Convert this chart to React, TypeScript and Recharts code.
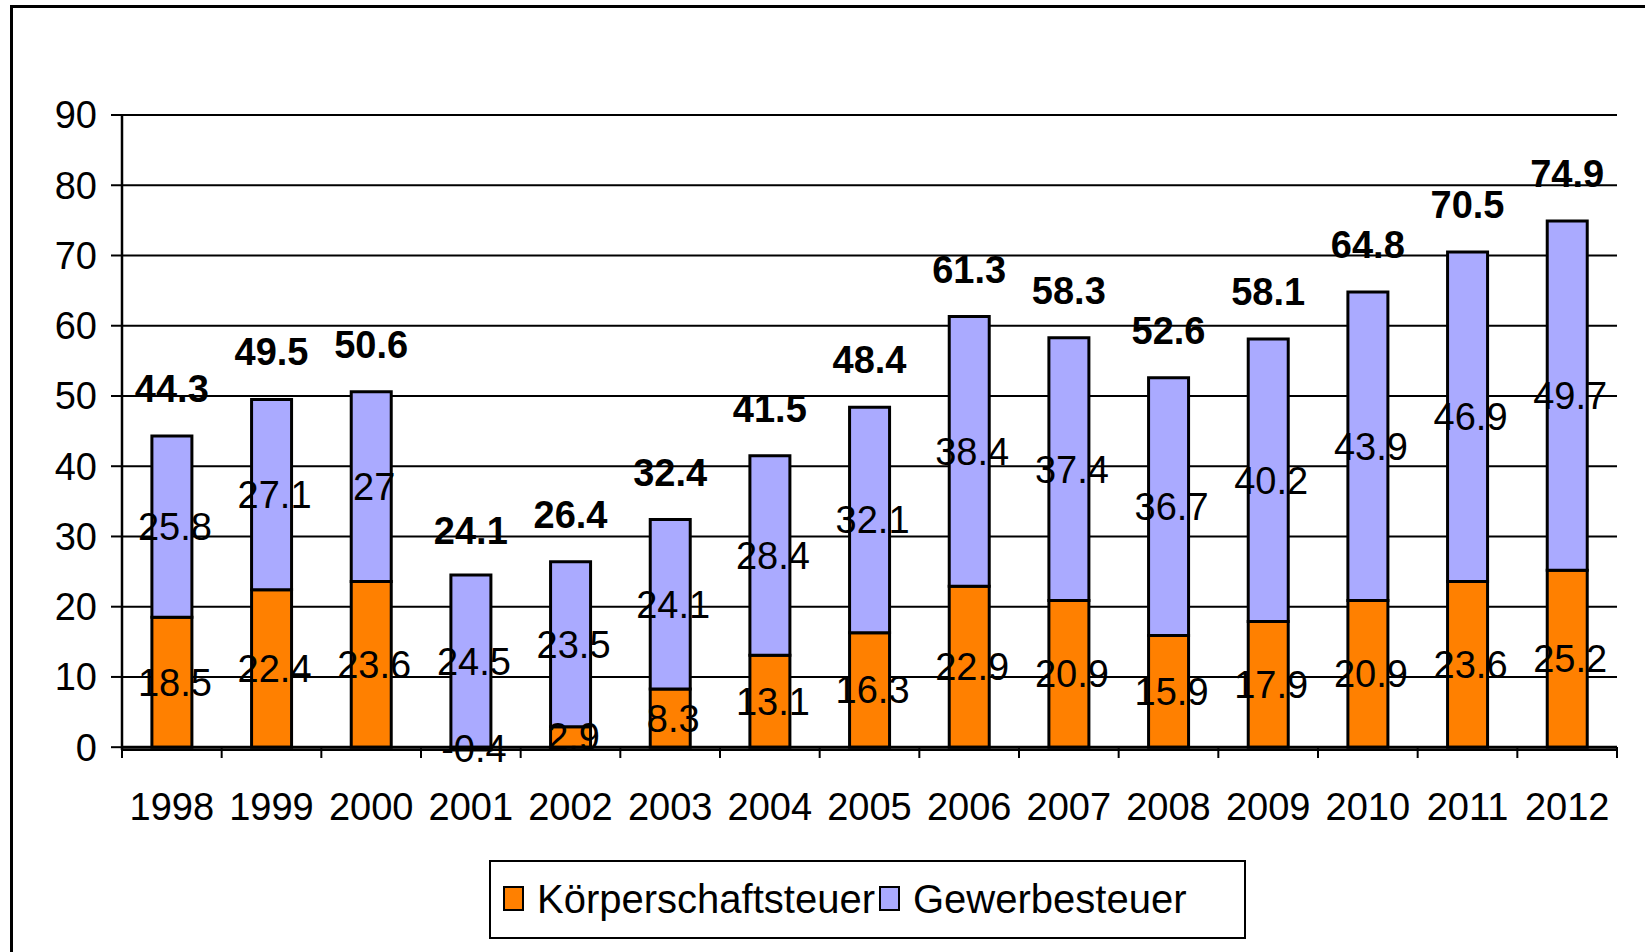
import { ComposedChart, Bar, Line, XAxis, YAxis, CartesianGrid, LabelList, ReferenceLine } from "recharts";

const years = ["1998", "1999", "2000", "2001", "2002", "2003", "2004", "2005", "2006", "2007", "2008", "2009", "2010", "2011", "2012"];
const koerperschaftsteuer = [18.5, 22.4, 23.6, -0.4, 2.9, 8.3, 13.1, 16.3, 22.9, 20.9, 15.9, 17.9, 20.9, 23.6, 25.2];
const gewerbesteuer = [25.8, 27.1, 27, 24.5, 23.5, 24.1, 28.4, 32.1, 38.4, 37.4, 36.7, 40.2, 43.9, 46.9, 49.7];
const totals = [44.3, 49.5, 50.6, 24.1, 26.4, 32.4, 41.5, 48.4, 61.3, 58.3, 52.6, 58.1, 64.8, 70.5, 74.9];
const yTicks = [0, 10, 20, 30, 40, 50, 60, 70, 80, 90];

const FONT = "'Liberation Sans', Arial, sans-serif";
const ORANGE = "#FF8000";
const BLUE = "#AAAAFF";

const data = years.map((year, i) => ({
  year,
  kst: koerperschaftsteuer[i],
  gst: gewerbesteuer[i],
  total: totals[i],
}));

// year label at the band centre, tick marks at the band edges
function YearTick(props: any) {
  const { x, y, payload, index, visibleTicksCount } = props;
  const half = payload.offset ?? 0;
  const last = index === visibleTicksCount - 1;
  return (
    <g>
      <line x1={x - half} x2={x - half} y1={y - 3} y2={y + 8} stroke="#000" strokeWidth={2} />
      {last && <line x1={x + half} x2={x + half} y1={y - 3} y2={y + 8} stroke="#000" strokeWidth={2} />}
      <text x={x} y={y + 57} textAnchor="middle" dominantBaseline="central" fontSize={38} fontFamily={FONT} fill="#000">
        {payload.value}
      </text>
    </g>
  );
}

function TotalLabel(props: any) {
  const { x, y, value } = props;
  return (
    <text x={x} y={y - 47} textAnchor="middle" dominantBaseline="central" fontSize={38} fontWeight="bold" fontFamily={FONT} fill="#000">
      {value}
    </text>
  );
}

const segLabel = { fill: "#000", fontSize: 38, fontFamily: FONT, dx: 3 };

export default function App() {
  return (
    <div style={{ position: "fixed", left: 0, top: 0, width: 1645, height: 952, background: "#fff", overflow: "hidden", fontFamily: FONT }}>
      <div style={{ position: "absolute", left: 10, top: 5, width: 1700, height: 1000, border: "3px solid #000" }} />
      <div style={{ position: "absolute", left: 0, top: 0 }}>
        <ComposedChart width={1645} height={952} data={data} stackOffset="sign" barCategoryGap="30%"
          margin={{ top: 115, right: 28, left: 12, bottom: 122 }}>
          <CartesianGrid vertical={false} stroke="#000" strokeWidth={2} />
          <XAxis dataKey="year" height={80} axisLine={false} tickLine={false} tickSize={0} tickMargin={0}
            tick={<YearTick />} interval={0} />
          <XAxis xAxisId="top" orientation="top" dataKey="year" height={0} tick={false} tickLine={false}
            axisLine={{ stroke: "#888", strokeWidth: 3 }} />
          <YAxis type="number" domain={[0, 90]} ticks={yTicks} width={110} tickSize={11} tickMargin={14}
            axisLine={{ stroke: "#000", strokeWidth: 2.5 }} tickLine={{ stroke: "#000", strokeWidth: 2 }}
            tick={{ fill: "#000", fontSize: 38, fontFamily: FONT }} />
          <YAxis yAxisId="r" orientation="right" type="number" domain={[0, 90]} width={0} tick={false} tickLine={false}
            axisLine={{ stroke: "#888", strokeWidth: 3 }} />
          <Bar dataKey="kst" stackId="a" fill={ORANGE} stroke="#000" strokeWidth={3} isAnimationActive={false}>
            <LabelList dataKey="kst" position="center" {...segLabel} />
          </Bar>
          <Bar dataKey="gst" stackId="a" fill={BLUE} stroke="#000" strokeWidth={3} isAnimationActive={false}>
            <LabelList dataKey="gst" position="center" {...segLabel} />
          </Bar>
          <ReferenceLine y={0} stroke="#000" strokeWidth={3} />
          <Line dataKey="total" stroke="none" dot={false} activeDot={false} legendType="none" isAnimationActive={false}>
            <LabelList dataKey="total" content={<TotalLabel />} />
          </Line>
        </ComposedChart>
      </div>
      <div style={{ position: "absolute", left: 489, top: 860, width: 757, height: 79, boxSizing: "border-box", border: "2px solid #000", background: "#fff" }}>
        <div style={{ position: "absolute", left: 12, top: 24, width: 21, height: 25, boxSizing: "border-box", border: "2px solid #000", background: ORANGE }} />
        <div style={{ position: "absolute", left: 46, top: 14, fontSize: 40, lineHeight: "46px", color: "#000" }}>Körperschaftsteuer</div>
        <div style={{ position: "absolute", left: 388, top: 24, width: 21, height: 25, boxSizing: "border-box", border: "2px solid #000", background: BLUE }} />
        <div style={{ position: "absolute", left: 422, top: 14, fontSize: 40, lineHeight: "46px", color: "#000" }}>Gewerbesteuer</div>
      </div>
    </div>
  );
}
